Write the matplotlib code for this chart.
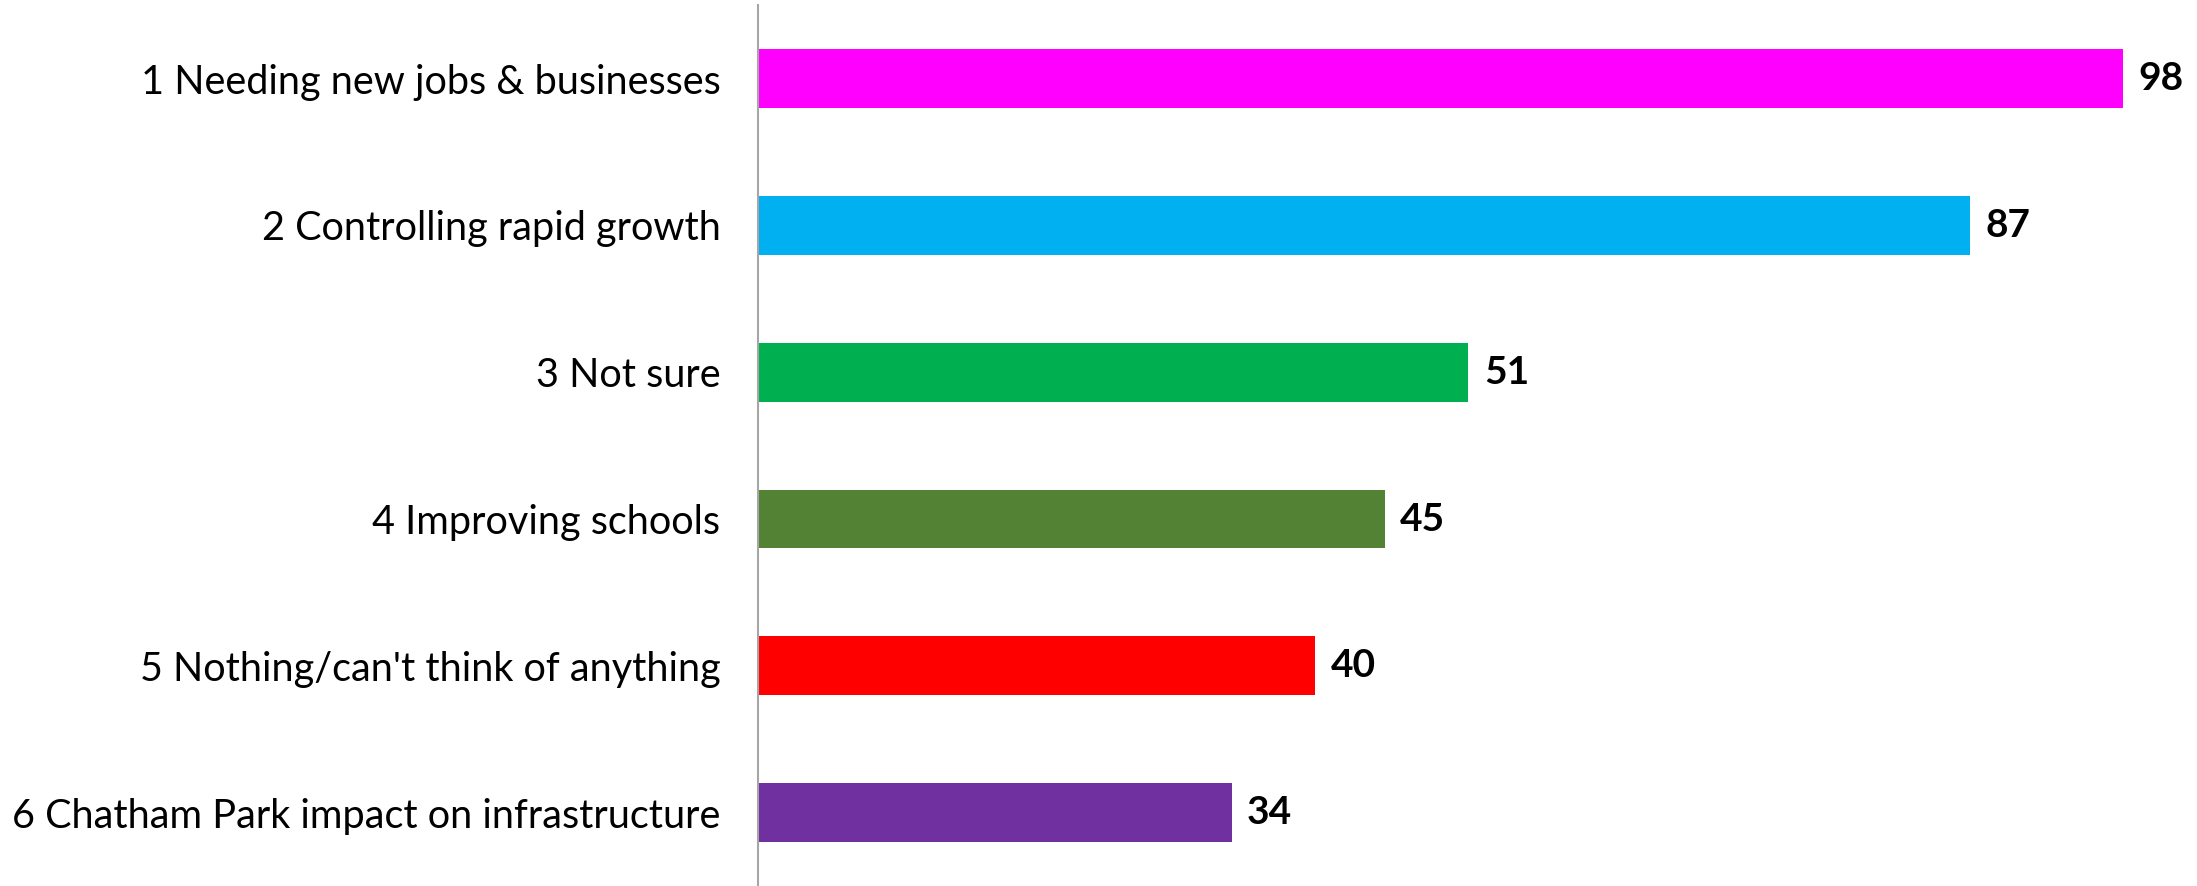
import matplotlib.pyplot as plt

# data
categories = ["1 Needing new jobs & businesses",
              "2 Controlling rapid growth",
              "3 Not sure",
              "4 Improving schools",
              "5 Nothing/can't think of anything",
              "6 Chatham Park impact on infrastructure"]
values = [98, 87, 51, 45, 40, 34]
colors = ["#FF00FF", "#00B0F0", "#00B050", "#548235", "#FF0000", "#7030A0"]

plt.rcParams['font.family'] = ['Lato', 'DejaVu Sans']

fig = plt.figure(figsize=(21.97, 8.86), dpi=100)
ax = fig.add_axes([0.345, 0.0, 0.655, 0.994])

y = list(range(len(categories)))
bars = ax.barh(y, values, height=0.4, color=colors)

for yi, v in zip(y, values):
    ax.text(v + 1.1, yi, str(v), va='center', ha='left',
            fontsize=28, fontweight='bold', color='black')

ax.set_xlim(0, 103.3)
ax.set_ylim(len(categories) - 0.5, -0.5)
ax.set_yticks(y)
ax.set_yticklabels(categories, fontsize=28.5)
ax.tick_params(axis='y', length=0, pad=27)
ax.set_xticks([])

for s in ['top', 'right', 'bottom']:
    ax.spines[s].set_visible(False)
ax.spines['left'].set_color('#A6A6A6')
ax.spines['left'].set_linewidth(1.5)

fig.savefig("out.png", dpi=100)
